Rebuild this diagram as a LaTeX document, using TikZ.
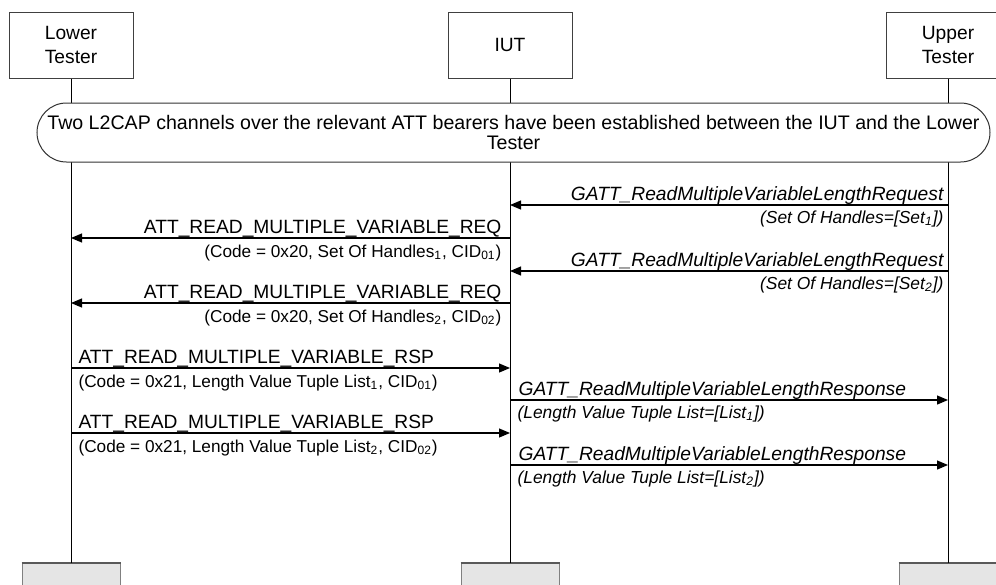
\documentclass[tikz,border=0pt]{standalone}
\usepackage{fontspec}
\setmainfont{Liberation Sans}
\usetikzlibrary{arrows.meta,positioning}
\tikzset{
  msc/actor/.style={draw=black!75, line width=0.5pt, fill=white, minimum width=62pt, minimum height=33pt, align=center, font=\fontsize{9.6}{12}\selectfont},
  msc/actorend/.style={draw=black!50, line width=0.5pt, fill=black!10, minimum width=49pt, minimum height=20pt, anchor=north},
  msc/life/.style={line width=0.5pt},
  msc/cond/.style={draw=black!80, line width=0.5pt, fill=white, rounded corners=14.75pt, minimum width=476.5pt, minimum height=29.5pt, align=center, font=\fontsize{9.8}{10}\selectfont},
  msc/msg/.style={line width=0.6pt, -{Triangle[length=5.5pt,width=4.5pt]}},
  msc/pdu/.style={inner sep=0pt, font=\fontsize{9.6}{11}\selectfont},
  msc/pdusub/.style={inner sep=0pt, font=\fontsize{8.6}{10}\selectfont},
  msc/api/.style={msc/pdu, font=\fontsize{9.6}{11}\selectfont\itshape},
  msc/apisub/.style={msc/pdusub, font=\fontsize{8.7}{10}\selectfont\itshape}
}

\begin{document}
\begin{tikzpicture}[x=0.5pt, y=-0.5pt]
  \clip (0,0) rectangle (996,584);
  \fill[white] (0,0) rectangle (996,584);

  \node[msc/actor] (lt) at (71,45) {Lower\\Tester};
  \node[msc/actor] (iut) at (510,45) {IUT};
  \node[msc/actor] (ut) at (948,45) {Upper\\Tester};

  \node[msc/actorend] (ltend) at (71,563) {};
  \node[msc/actorend] (iutend) at (510,563) {};
  \node[msc/actorend] (utend) at (948,563) {};
  \foreach \n in {ltend,iutend,utend}
    \draw[line width=1pt, black!65] (\n.north west) -- (\n.north east);

  \draw[msc/life] (lt) -- (ltend);
  \draw[msc/life] (iut) -- (iutend);
  \draw[msc/life] (ut) -- (utend);

  \node[msc/cond] (est) at (513.5,132.5) {Two L2CAP channels over the relevant ATT bearers have been established between the IUT and the Lower\\Tester};

  \draw[msc/msg] (ut |- 0,205) -- (iut |- 0,205)
    node[at start, msc/api, anchor=base east, xshift=-2pt, yshift=2.5pt] (req1) {GATT\_ReadMultipleVariableLengthRequest}
    node[at start, msc/apisub, anchor=base east, xshift=-2pt, yshift=-9pt] (req1p) {(Set Of Handles=[Set\textsubscript{1}])};
  \draw[msc/msg] (iut |- 0,238) -- (lt |- 0,238)
    node[at start, msc/pdu, anchor=base east, xshift=-4pt, yshift=2.5pt] (att1) {ATT\_READ\_MULTIPLE\_VARIABLE\_REQ}
    node[at start, msc/pdusub, anchor=base east, xshift=-4pt, yshift=-9.5pt] (att1p) {(Code = 0x20, Set Of Handles\textsubscript{1}, CID\textsubscript{01})};
  \draw[msc/msg] (ut |- 0,271) -- (iut |- 0,271)
    node[at start, msc/api, anchor=base east, xshift=-2pt, yshift=2.5pt] (req2) {GATT\_ReadMultipleVariableLengthRequest}
    node[at start, msc/apisub, anchor=base east, xshift=-2pt, yshift=-9pt] (req2p) {(Set Of Handles=[Set\textsubscript{2}])};
  \draw[msc/msg] (iut |- 0,303) -- (lt |- 0,303)
    node[at start, msc/pdu, anchor=base east, xshift=-4pt, yshift=2.5pt] (att2) {ATT\_READ\_MULTIPLE\_VARIABLE\_REQ}
    node[at start, msc/pdusub, anchor=base east, xshift=-4pt, yshift=-9.5pt] (att2p) {(Code = 0x20, Set Of Handles\textsubscript{2}, CID\textsubscript{02})};

  \draw[msc/msg] (lt |- 0,368) -- (iut |- 0,368)
    node[at start, msc/pdu, anchor=base west, xshift=3.5pt, yshift=2.5pt] (rsp1) {ATT\_READ\_MULTIPLE\_VARIABLE\_RSP}
    node[at start, msc/pdusub, anchor=base west, xshift=3.5pt, yshift=-9.5pt] (rsp1p) {(Code = 0x21, Length Value Tuple List\textsubscript{1}, CID\textsubscript{01})};
  \draw[msc/msg] (iut |- 0,400) -- (ut |- 0,400)
    node[at start, msc/api, anchor=base west, xshift=4pt, yshift=2.5pt] (ans1) {GATT\_ReadMultipleVariableLengthResponse}
    node[at start, msc/apisub, anchor=base west, xshift=3.5pt, yshift=-9pt] (ans1p) {(Length Value Tuple List=[List\textsubscript{1}])};
  \draw[msc/msg] (lt |- 0,433) -- (iut |- 0,433)
    node[at start, msc/pdu, anchor=base west, xshift=3.5pt, yshift=2.5pt] (rsp2) {ATT\_READ\_MULTIPLE\_VARIABLE\_RSP}
    node[at start, msc/pdusub, anchor=base west, xshift=3.5pt, yshift=-9.5pt] (rsp2p) {(Code = 0x21, Length Value Tuple List\textsubscript{2}, CID\textsubscript{02})};
  \draw[msc/msg] (iut |- 0,465) -- (ut |- 0,465)
    node[at start, msc/api, anchor=base west, xshift=4pt, yshift=2.5pt] (ans2) {GATT\_ReadMultipleVariableLengthResponse}
    node[at start, msc/apisub, anchor=base west, xshift=3.5pt, yshift=-9pt] (ans2p) {(Length Value Tuple List=[List\textsubscript{2}])};
\end{tikzpicture}
\end{document}
